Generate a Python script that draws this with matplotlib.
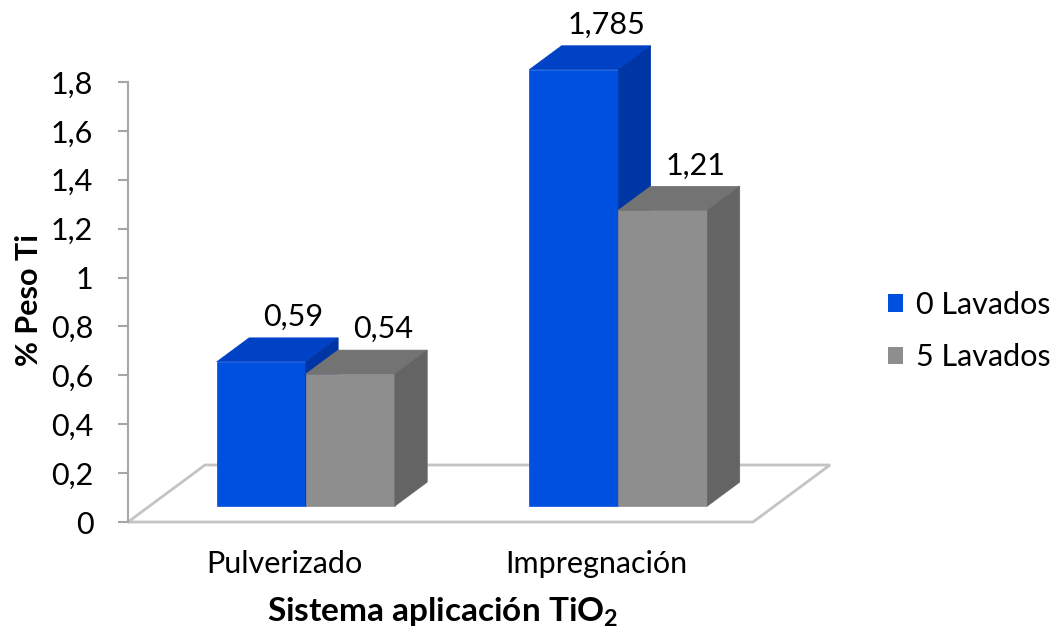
import matplotlib
matplotlib.use("Agg")
import matplotlib.pyplot as plt
from matplotlib.patches import Polygon, Patch

plt.rcParams['font.family'] = ['Lato', 'DejaVu Sans']
plt.rcParams['mathtext.fontset'] = 'custom'
plt.rcParams['mathtext.bf'] = 'Lato:bold'
plt.rcParams['mathtext.rm'] = 'Lato'

categories = ['Pulverizado', 'Impregnación']
series = ['0 Lavados', '5 Lavados']
values_0 = [0.59, 1.785]
values_5 = [0.54, 1.21]
yticks = [0, 0.2, 0.4, 0.6, 0.8, 1.0, 1.2, 1.4, 1.6, 1.8]

# face colours: front, top, side
blue = ('#0050e0', '#0042c6', '#0035a6')
gray = ('#8e8e8e', '#737373', '#646464')

# oblique depth offset of the whole floor (x units, y units)
DX, DY = 0.2464, 0.2332
# bars sit in the middle of the floor depth
D0, D1 = 0.28, 0.70
BAR_W = 0.285
FS = 22

fig = plt.figure(figsize=(10.61, 6.36), dpi=100)
ax = fig.add_axes([128 / 1061, 114 / 636, 702 / 1061, 440 / 636])
ax.set_xlim(0, 2 + DX)
ax.set_ylim(0, 1.8)
for s in ('top', 'right', 'bottom'):
    ax.spines[s].set_visible(False)
ax.spines['left'].set_color('#a6a6a6')
ax.spines['left'].set_linewidth(1.5)
ax.spines['left'].set_bounds(0, 1.8)

ax.set_yticks(yticks)
ax.set_yticklabels([f'{v:g}'.replace('.', ',') for v in yticks])
ax.tick_params(axis='y', direction='out', length=7, width=1.5, color='#a6a6a6',
               pad=18, labelsize=FS)
ax.set_xticks([0.5, 1.5])
ax.set_xticklabels(categories)
ax.tick_params(axis='x', length=0, pad=20, labelsize=FS)

# floor
floor = Polygon([(0, 0), (2, 0), (2 + DX, DY), (DX, DY)], closed=True,
                facecolor='white', edgecolor='#c4c4c4', lw=2, clip_on=False, zorder=1)
ax.add_patch(floor)


def bar3d(x0, h, cols):
    ox0, oy0 = D0 * DX, D0 * DY
    ox1, oy1 = D1 * DX, D1 * DY
    x1 = x0 + BAR_W
    faces = [
        ([(x0 + ox0, oy0), (x1 + ox0, oy0), (x1 + ox0, h + oy0), (x0 + ox0, h + oy0)], cols[0]),
        ([(x0 + ox0, h + oy0), (x1 + ox0, h + oy0), (x1 + ox1, h + oy1), (x0 + ox1, h + oy1)], cols[1]),
        ([(x1 + ox0, oy0), (x1 + ox1, oy1), (x1 + ox1, h + oy1), (x1 + ox0, h + oy0)], cols[2]),
    ]
    for pts, c in faces:
        ax.add_patch(Polygon(pts, closed=True, facecolor=c, edgecolor=c, lw=0.5,
                             clip_on=False, zorder=2))
    ax.annotate(f'{h:g}'.replace('.', ','), (x0 + BAR_W / 2 + ox1, h + oy1),
                xytext=(0, 5), textcoords='offset points', ha='center', va='bottom',
                fontsize=FS, annotation_clip=False, zorder=3)


for i in range(len(categories)):
    left = i + 0.5 - BAR_W
    bar3d(left, values_0[i], blue)
    bar3d(left + BAR_W, values_5[i], gray)

fig.text(29 / 1061, 1 - 300 / 636, '% Peso Ti', rotation=90, ha='center', va='center',
         fontsize=FS, fontweight='bold')
fig.text(443 / 1061, 1 - 612 / 636, r'Sistema aplicación TiO$_\mathbf{2}$',
         ha='center', va='center', fontsize=24, fontweight='bold')

handles = [Patch(facecolor=blue[0]), Patch(facecolor=gray[0])]
ax.legend(handles, series, loc='center left', bbox_to_anchor=(888 / 1061, 1 - 331 / 636),
          bbox_transform=fig.transFigure, frameon=False, fontsize=FS,
          handlelength=0.5, handleheight=0.5, handletextpad=0.4, labelspacing=0.8,
          borderpad=0, borderaxespad=0)

fig.savefig('out.png', dpi=100)
